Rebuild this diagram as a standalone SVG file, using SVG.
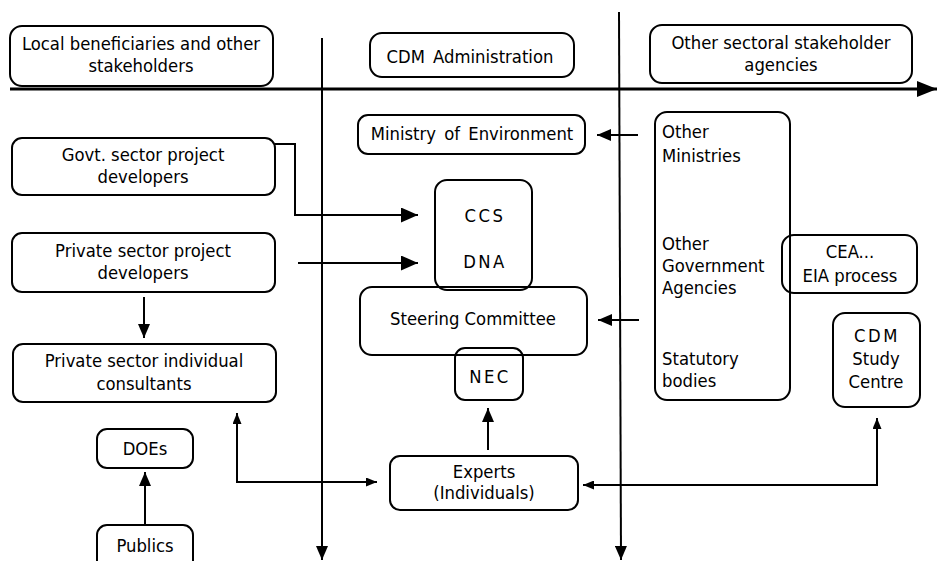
<svg xmlns="http://www.w3.org/2000/svg" width="939" height="561" viewBox="0 0 939 561">
<style>
.box{fill:none;stroke:#000;stroke-width:2}
.ln{fill:none;stroke:#000;stroke-width:2}
.ax{fill:none;stroke:#000;stroke-width:3}
text{font-family:"DejaVu Sans Condensed","DejaVu Sans",sans-serif;font-stretch:condensed;font-size:18.3px;fill:#000}
.c{text-anchor:middle}
.sp{letter-spacing:2.5px}
.ws{word-spacing:3px}
</style>
<defs>
<marker id="big" markerUnits="userSpaceOnUse" markerWidth="17" markerHeight="15" refX="17" refY="7.5" orient="auto"><path d="M0,0 L17,7.5 L0,15 z" fill="#000"/></marker>
<marker id="mid" markerUnits="userSpaceOnUse" markerWidth="14" markerHeight="12" refX="14" refY="6" orient="auto"><path d="M0,0 L14,6 L0,12 z" fill="#000"/></marker>
<marker id="sm" markerUnits="userSpaceOnUse" markerWidth="11" markerHeight="9" refX="11" refY="4.5" orient="auto-start-reverse"><path d="M0,0 L11,4.5 L0,9 z" fill="#000"/></marker>
<marker id="axh" markerUnits="userSpaceOnUse" markerWidth="20" markerHeight="16" refX="20" refY="8" orient="auto"><path d="M0,0 L20,8 L0,16 z" fill="#000"/></marker>
</defs>
<g id="connectors">
<path class="ax" d="M10,89 L937,89" marker-end="url(#axh)"/>
<path class="ln" d="M322,38 L322,560" marker-end="url(#mid)"/>
<path class="ln" d="M619,12 L621,560" marker-end="url(#mid)"/>
<path class="ln" d="M275,144 L295,144 L295,215 L418,215" marker-end="url(#big)"/>
<path class="ln" d="M298,263 L418,263" marker-end="url(#big)"/>
<path class="ln" d="M638,135 L597,135" marker-end="url(#mid)"/>
<path class="ln" d="M639,320 L598,320" marker-end="url(#mid)"/>
<path class="ln" d="M144,297 L144,338" marker-end="url(#mid)"/>
<path class="ln" d="M488,450 L488,408" marker-end="url(#mid)"/>
<path class="ln" d="M145,524 L145,472" marker-end="url(#mid)"/>
<path class="ln" d="M237,413 L237,482 L377,482" marker-start="url(#sm)" marker-end="url(#sm)"/>
<path class="ln" d="M583,485 L877,485 L877,418" marker-start="url(#sm)" marker-end="url(#sm)"/>
</g>
<g id="local">
<rect class="box" x="10" y="26" width="263" height="60" rx="12"/>
<text class="c" x="141" y="50">Local beneficiaries and other</text>
<text class="c" x="141" y="72">stakeholders</text>
</g>
<g id="cdmadmin">
<rect class="box" x="370" y="33" width="204" height="44" rx="12"/>
<text class="c ws" x="470" y="63">CDM Administration</text>
</g>
<g id="othersect">
<rect class="box" x="650" y="25" width="262" height="58" rx="12"/>
<text class="c" x="781" y="49">Other sectoral stakeholder</text>
<text class="c" x="781" y="71">agencies</text>
</g>
<g id="ministry">
<rect class="box" x="358" y="115" width="227" height="39" rx="10"/>
<text class="c ws" x="472" y="140">Ministry of Environment</text>
</g>
<g id="govt">
<rect class="box" x="12" y="138" width="263" height="57" rx="10"/>
<text class="c" x="143" y="161">Govt. sector project</text>
<text class="c" x="143" y="183">developers</text>
</g>
<g id="private">
<rect class="box" x="12" y="233" width="263" height="59" rx="10"/>
<text class="c" x="143" y="257">Private sector project</text>
<text class="c" x="143" y="279">developers</text>
</g>
<g id="ccsdna">
<rect class="box" x="435" y="180" width="97" height="110" rx="12"/>
<text class="c sp" x="485" y="222">CCS</text>
<text class="c sp" x="485" y="268">DNA</text>
</g>
<g id="steering">
<rect class="box" x="360" y="287" width="227" height="68" rx="12"/>
<text class="c" x="473" y="325">Steering Committee</text>
</g>
<g id="nec">
<rect class="box" x="455" y="348" width="68" height="52" rx="10"/>
<text class="c sp" x="490" y="383">NEC</text>
</g>
<g id="others">
<rect class="box" x="655" y="112" width="135" height="288" rx="12"/>
<text x="662" y="138">Other</text>
<text x="662" y="162">Ministries</text>
<text x="662" y="250">Other</text>
<text x="662" y="272">Government</text>
<text x="662" y="294">Agencies</text>
<text x="662" y="365">Statutory</text>
<text x="662" y="387">bodies</text>
</g>
<g id="cea">
<rect class="box" x="782" y="235" width="135" height="58" rx="12"/>
<text class="c" x="850" y="258">CEA...</text>
<text class="c" x="850" y="282">EIA process</text>
</g>
<g id="studycentre">
<rect class="box" x="833" y="313" width="87" height="94" rx="12"/>
<text class="c sp" x="877" y="342">CDM</text>
<text class="c" x="876" y="365">Study</text>
<text class="c" x="876" y="388">Centre</text>
</g>
<g id="consultants">
<rect class="box" x="13" y="344" width="263" height="58" rx="10"/>
<text class="c" x="144" y="367">Private sector individual</text>
<text class="c" x="144" y="390">consultants</text>
</g>
<g id="experts">
<rect class="box" x="390" y="456" width="188" height="54" rx="10"/>
<text class="c" x="484" y="478">Experts</text>
<text class="c" x="484" y="499">(Individuals)</text>
</g>
<g id="does">
<rect class="box" x="97" y="429" width="96" height="39" rx="10"/>
<text class="c" x="145" y="455">DOEs</text>
</g>
<g id="publics">
<rect class="box" x="97" y="525" width="96" height="45" rx="10"/>
<text class="c" x="145" y="552">Publics</text>
</g>
</svg>
